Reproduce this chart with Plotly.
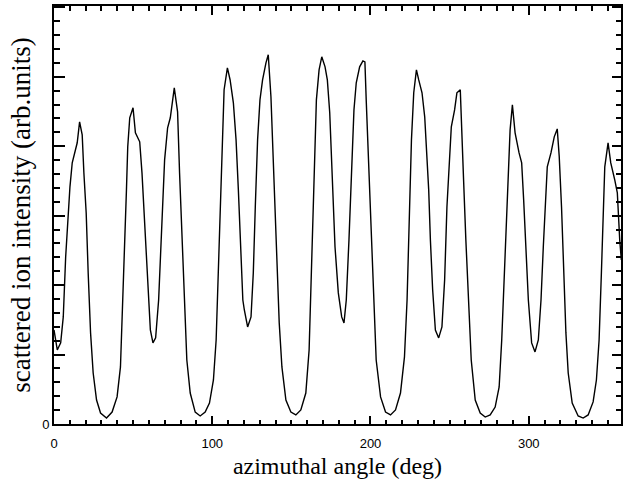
import plotly.graph_objects as go

# azimuthal angle (deg)
angle = [0.0, 2.08, 4.22, 5.86, 7.37, 8.82, 10.08, 11.52, 13.66, 14.67, 16.18, 17.82, 18.89, 20.34, 21.60,
         23.11, 24.75, 26.89, 29.41, 33.19, 36.71, 39.86, 42.00, 43.45, 44.71, 45.78, 46.60, 47.86, 49.94,
         51.45, 54.16, 55.60, 57.12, 58.75, 60.89, 62.53, 64.23, 66.12, 67.19, 68.45, 69.90, 71.79, 73.49,
         76.01, 78.09, 79.35, 80.79, 82.49, 83.94, 86.08, 89.23, 92.38, 95.53, 98.24, 100.75, 102.46, 103.71,
         104.97, 106.23, 107.49, 109.57, 111.27, 113.35, 115.05, 116.50, 118.07, 119.33, 120.28, 122.36,
         124.50, 125.94, 127.20, 128.65, 130.16, 131.80, 133.94, 135.39, 137.09, 138.10, 139.17, 140.61,
         142.32, 144.02, 146.54, 149.69, 152.83, 155.98, 159.13, 161.21, 162.28, 163.29, 164.36, 165.81,
         167.51, 169.21, 171.28, 172.73, 174.24, 175.88, 177.58, 179.66, 181.80, 183.25, 184.70, 186.40,
         188.10, 189.55, 191.00, 193.14, 195.21, 196.47, 197.29, 198.99, 200.69, 202.14, 203.59, 206.36,
         209.51, 212.66, 215.81, 218.95, 221.47, 223.11, 224.62, 225.88, 227.33, 229.03, 230.48, 232.56,
         234.26, 235.71, 236.78, 237.85, 239.29, 241.00, 243.08, 245.15, 246.85, 248.30, 249.81, 251.07,
         253.15, 254.60, 256.74, 257.75, 258.82, 260.26, 261.96, 263.66, 266.18, 269.33, 272.48, 275.63,
         278.78, 281.30, 282.93, 284.63, 286.08, 287.15, 288.22, 289.67, 291.37, 293.89, 295.53, 296.79,
         298.05, 299.75, 301.83, 303.97, 306.05, 307.75, 309.20, 310.26, 311.71, 314.04, 316.12, 318.01,
         319.27, 320.72, 322.23, 323.49, 324.94, 327.46, 331.23, 334.38, 337.53, 340.68, 342.76, 344.46,
         345.91, 346.98, 348.05, 350.13, 351.83, 354.35, 355.98, 357.49, 358.50]

# scattered ion intensity (arb. units)
intensity = [6.77, 5.33, 5.84, 7.71, 12.03, 15.20, 17.08, 18.81, 19.74, 20.25, 21.76, 20.82, 18.08, 15.20, 10.88,
             6.56, 3.67, 1.73, 0.79, 0.43, 0.86, 1.95, 4.11, 8.43, 13.26, 16.86, 19.96, 22.05, 22.77,
             20.97, 20.32, 18.08, 14.91, 11.31, 6.77, 5.84, 6.20, 8.93, 12.03, 15.63, 19.02, 21.33, 22.05,
             24.21, 22.48, 18.08, 13.76, 8.43, 4.61, 2.23, 0.86, 0.58, 0.86, 1.51, 3.17, 6.05, 10.38,
             14.91, 19.96, 24.07, 25.65, 24.79, 23.13, 20.46, 16.86, 12.54, 8.93, 8.21, 6.99,
             7.71, 10.88, 15.63, 20.46, 23.34, 24.78, 26.01, 26.59, 23.56, 20.46, 16.86, 12.03,
             7.28, 4.11, 1.73, 0.86, 0.65, 1.01, 2.23, 5.33, 9.65, 14.48, 19.24, 23.34,
             25.50, 26.44, 25.72, 24.78, 22.41, 17.58, 12.75, 9.44, 7.71, 7.28, 8.93, 13.26,
             18.52, 22.62, 24.57, 25.72, 26.15, 26.08, 23.34, 18.52, 13.26, 8.43, 4.61, 1.95,
             0.86, 0.65, 1.01, 2.23, 4.83, 8.93, 14.48, 20.46, 23.85, 25.50, 24.78, 23.85,
             22.12, 19.24, 16.86, 13.26, 9.65, 6.77, 6.20, 6.99, 10.38, 15.63, 19.24, 21.40,
             22.62, 23.85, 24.06, 21.40, 17.58, 13.26, 8.43, 4.61, 1.73, 0.79, 0.50, 0.65,
             1.22, 2.67, 6.05, 10.88, 15.63, 19.24, 21.18, 22.98, 20.97, 19.52, 18.80, 16.14,
             12.75, 8.93, 5.84, 5.19, 6.05, 8.93, 12.75, 15.63, 18.52, 19.52, 20.68, 21.25,
             19.24, 15.63, 10.88, 6.56, 3.67, 1.51, 0.58, 0.43, 0.65, 1.59, 3.17, 6.05,
             10.88, 15.63, 18.52, 20.25, 18.80, 17.58, 16.64, 13.26, 11.82]

x_ticks = [0, 100, 200, 300]
x_labels = ["0", "100", "200", "300"]
x_minor_ticks = list(range(0, 360, 10))
y_ticks = [0, 5, 10, 15, 20, 25, 30]
y_labels = ["0", "", "", "", "", "", ""]
y_minor_ticks = list(range(0, 31, 1))
x_range = [0, 358.3]
y_range = [0, 30.1]

fig = go.Figure()
fig.add_trace(go.Scatter(x=angle, y=intensity, mode="lines",
                         line=dict(color="black", width=1.4), hoverinfo="skip"))
# placeholder traces (one point outside the visible range) so the top/right tick axes are drawn
fig.add_trace(go.Scatter(x=[-100], y=[-100], xaxis="x2", yaxis="y2", mode="markers",
                         marker=dict(size=1, color="white"), hoverinfo="skip", showlegend=False))
fig.add_trace(go.Scatter(x=[-100], y=[-100], xaxis="x3", yaxis="y3", mode="markers",
                         marker=dict(size=1, color="white"), hoverinfo="skip", showlegend=False))

fig.update_layout(
    width=624, height=483,
    margin=dict(l=54, r=1, t=6, b=59),
    paper_bgcolor="white", plot_bgcolor="white",
    showlegend=False,
    font=dict(family="Liberation Sans", color="black", size=13),
)

mirror_common = dict(showgrid=False, zeroline=False, showline=False, showticklabels=False,
                     tickmode="array", ticks="inside", tickcolor="black")

fig.update_layout(
    xaxis=dict(
        range=x_range, showgrid=False, zeroline=False,
        showline=True, linecolor="black", linewidth=1.8, mirror=True,
        tickmode="array", tickvals=x_ticks, ticktext=x_labels,
        ticks="inside", ticklen=8, tickwidth=1.8, tickcolor="black",
        tickfont=dict(family="Liberation Sans", size=13),
        ticklabelstandoff=6,
        minor=dict(dtick=10, tick0=0, ticks="inside", ticklen=4, tickwidth=1.6, tickcolor="black", showgrid=False),
        title=dict(text="azimuthal angle (deg)", font=dict(family="Liberation Serif", size=24), standoff=8),
    ),
    yaxis=dict(
        range=y_range, showgrid=False, zeroline=False,
        showline=True, linecolor="black", linewidth=1.8, mirror=True,
        tickmode="array", tickvals=y_ticks, ticktext=y_labels,
        ticks="inside", ticklen=11, tickwidth=1.8, tickcolor="black",
        tickfont=dict(family="Liberation Sans", size=13),
        minor=dict(dtick=1, tick0=0, ticks="inside", ticklen=6, tickwidth=1.6, tickcolor="black", showgrid=False),
        title=dict(text="scattered ion intensity (arb.units)", font=dict(family="Liberation Serif", size=27), standoff=4),
    ),
    # top / right minor ticks
    xaxis2=dict(overlaying="x", side="top", anchor="y2", range=x_range,
                tickvals=x_minor_ticks, ticklen=5, tickwidth=1.6, **mirror_common),
    yaxis2=dict(overlaying="y", side="right", anchor="x2", range=y_range,
                tickvals=y_minor_ticks, ticklen=5, tickwidth=1.6, **mirror_common),
    # top / right major ticks
    xaxis3=dict(overlaying="x", side="top", anchor="y3", range=x_range,
                tickvals=x_ticks, ticklen=9, tickwidth=1.8, **mirror_common),
    yaxis3=dict(overlaying="y", side="right", anchor="x3", range=y_range,
                tickvals=y_ticks, ticklen=9, tickwidth=1.8, **mirror_common),
)

fig.write_html("out.html")
